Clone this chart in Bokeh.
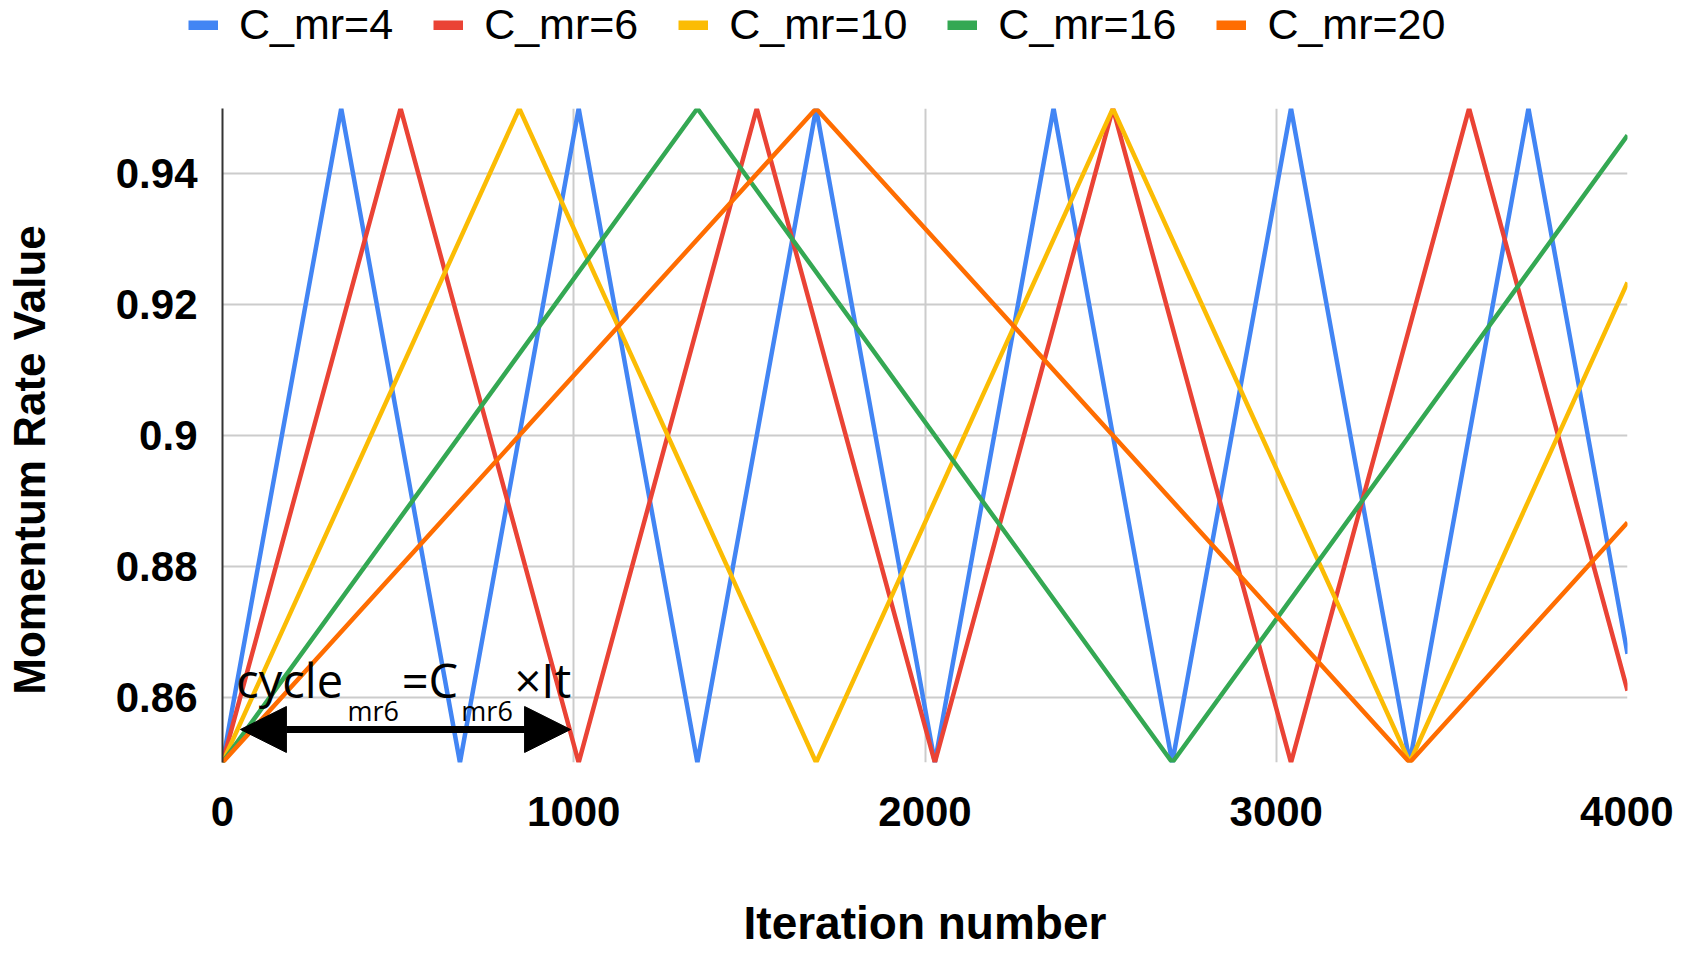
from bokeh.plotting import figure
from bokeh.models import (Range1d, FixedTicker, Legend, LegendItem, Label,
                          Arrow, NormalHead)
from bokeh.embed import file_html
from bokeh.resources import INLINE

# ---------------- data ----------------
series_names = ["C_mr=4", "C_mr=6", "C_mr=10", "C_mr=16", "C_mr=20"]
series_colors = ["#4285F4", "#EA4335", "#FBBC04", "#34A853", "#FF6D01"]

cmr4_x = [0, 338, 676, 1014, 1352, 1690, 2028, 2366, 2704, 3042, 3380, 3718, 4000]
cmr4_y = [0.85, 0.95, 0.85, 0.95, 0.85, 0.95, 0.85, 0.95, 0.85, 0.95, 0.85, 0.95, 0.8666]
cmr6_x = [0, 507, 1014, 1521, 2028, 2535, 3042, 3549, 4000]
cmr6_y = [0.85, 0.95, 0.85, 0.95, 0.85, 0.95, 0.85, 0.95, 0.861]
cmr10_x = [0, 845, 1690, 2535, 3380, 4000]
cmr10_y = [0.85, 0.95, 0.85, 0.95, 0.85, 0.9234]
cmr16_x = [0, 1352, 2704, 4000]
cmr16_y = [0.85, 0.95, 0.85, 0.9459]
cmr20_x = [0, 1690, 3380, 4000]
cmr20_y = [0.85, 0.95, 0.85, 0.8867]

series_x = [cmr4_x, cmr6_x, cmr10_x, cmr16_x, cmr20_x]
series_y = [cmr4_y, cmr6_y, cmr10_y, cmr16_y, cmr20_y]

x_ticks = [0, 1000, 2000, 3000, 4000]
y_ticks = [0.86, 0.88, 0.90, 0.92, 0.94]
y_tick_labels = ["0.86", "0.88", "0.9", "0.92", "0.94"]

x_title = "Iteration number"
y_title = "Momentum Rate Value"

# annotation (cycle_mr6 = C_mr6 x It), data positions
arrow_x0, arrow_x1, arrow_y = 51, 991, 0.85505
ann_base_y = 0.8626
ann_sub_y = 0.8580
ann_parts = [("cycle", 39, ann_base_y, "main"),
             ("mr6", 356, ann_sub_y, "sub"),
             ("=C", 510, ann_base_y, "main"),
             ("mr6", 680, ann_sub_y, "sub"),
             ("\u00d7It", 831, ann_base_y, "main")]

# ---------------- layout sizes ----------------
W, H = 1673, 954
HL = 49  # legend strip height

# ---------------- legend strip (own root) ----------------
lf = figure(width=W, height=HL, output_backend="svg", toolbar_location=None,
            x_axis_location=None, y_axis_location=None,
            x_range=Range1d(0, 1), y_range=Range1d(0, 1),
            min_border_left=0, min_border_right=0,
            min_border_top=0, min_border_bottom=0)
lf.outline_line_color = None
lf.grid.visible = False
lf.background_fill_color = "white"
lf.border_fill_color = "white"
items = []
for name, c in zip(series_names, series_colors):
    # swatch-only renderer, its data lies outside the strip's ranges
    r = lf.line([2, 3], [2, 3], line_color=c, line_width=10)
    items.append(LegendItem(label=name, renderers=[r]))
legend = Legend(items=items, orientation="horizontal", location=(188, 0),
                glyph_width=30, glyph_height=10, label_standoff=21, spacing=40,
                padding=0, margin=0, border_line_color=None,
                background_fill_alpha=0, label_text_font="Liberation Sans",
                label_text_font_size="43px", label_text_color="black")
lf.add_layout(legend)

# ---------------- main chart ----------------
p = figure(width=W, height=H - HL, output_backend="svg", toolbar_location=None,
           x_range=Range1d(0, 4000), y_range=Range1d(0.85, 0.95),
           min_border_left=222, min_border_right=46,
           min_border_top=108 - HL, min_border_bottom=192)
p.outline_line_color = None
p.background_fill_color = "white"
p.border_fill_color = "white"

for xs, ys, c in zip(series_x, series_y, series_colors):
    p.line(xs, ys, line_color=c, line_width=4.5)

p.xaxis.ticker = FixedTicker(ticks=x_ticks)
p.yaxis.ticker = FixedTicker(ticks=y_ticks)
p.yaxis.major_label_overrides = {t: l for t, l in zip(y_ticks, y_tick_labels)}
for ax in (p.xaxis, p.yaxis):
    ax.major_tick_line_color = None
    ax.minor_tick_line_color = None
    ax.major_tick_out = 0
    ax.major_tick_in = 0
    ax.major_label_text_font = "Liberation Sans"
    ax.major_label_text_font_style = "bold"
    ax.major_label_text_font_size = "42px"
    ax.major_label_text_color = "black"
    ax.axis_label_text_font = "Liberation Sans"
    ax.axis_label_text_font_style = "bold"
    ax.axis_label_text_color = "black"
p.xaxis.axis_line_color = None
p.yaxis.axis_line_color = "#333333"
p.yaxis.axis_line_width = 2
p.xaxis.major_label_standoff = 34
p.yaxis.major_label_standoff = 25

p.xaxis.axis_label = x_title
p.xaxis.axis_label_text_font_size = "46px"
p.xaxis.axis_label_standoff = 68

# y title: trailing no-break spaces move the visible words below the frame middle
p.yaxis.axis_label = y_title + "\u00a0" * 4
p.yaxis.axis_label_text_font_size = "44px"
p.yaxis.axis_label_standoff = 59

p.xgrid.ticker = FixedTicker(ticks=x_ticks[1:])
p.ygrid.ticker = FixedTicker(ticks=y_ticks)
p.grid.grid_line_color = "#cccccc"
p.grid.grid_line_width = 2

p.add_layout(Arrow(x_start=arrow_x0, y_start=arrow_y, x_end=arrow_x1, y_end=arrow_y,
                   line_width=7, line_color="black",
                   start=NormalHead(size=46, fill_color="black", line_color="black"),
                   end=NormalHead(size=46, fill_color="black", line_color="black")))
for txt, ax_, ay_, kind in ann_parts:
    p.add_layout(Label(x=ax_, y=ay_, text=txt, text_font="Open Sans",
                       text_font_size="47px" if kind == "main" else "27px",
                       text_align="left", text_baseline="alphabetic",
                       text_color="black"))

open("out.html", "w").write(file_html([lf, p], INLINE))
